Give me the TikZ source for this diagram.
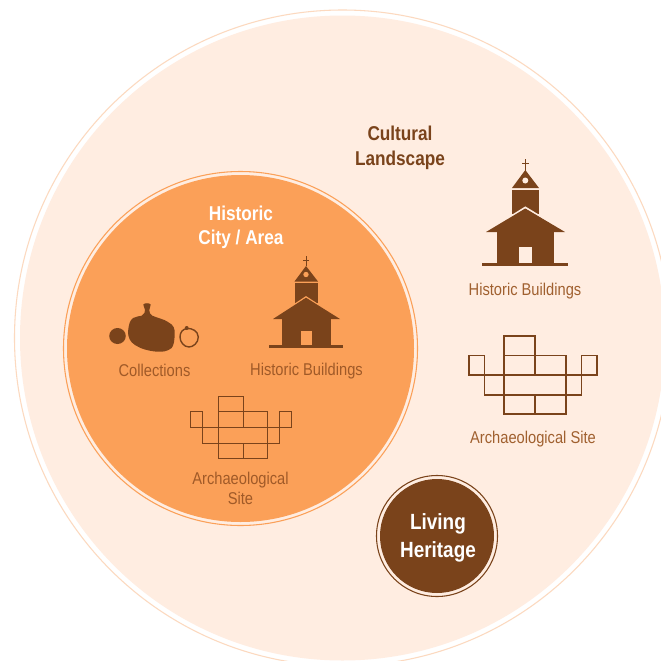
\documentclass[tikz,border=0pt]{standalone}
\usepackage{fontspec}
\setmainfont[FakeStretch=0.86]{Liberation Sans}
\definecolor{brn}{HTML}{7A431B}
\definecolor{org}{HTML}{FBA058}
\definecolor{lgt}{HTML}{FFEDE1}
\definecolor{rng}{HTML}{FCD9BF}
\definecolor{lbl}{HTML}{A0602F}
\definecolor{lblo}{HTML}{A05A28}
\tikzset{
  px/.style={x=0.75pt,y=-0.75pt},
  lab/.style={align=center,font=\fontsize{12.8pt}{15.2pt}\selectfont,inner sep=0pt},
  head/.style={align=center,font=\fontsize{15pt}{19pt}\selectfont\bfseries,inner sep=0pt},
  site/.style={draw=brn,line width=0.8pt,fill=none},
  sites/.style={draw=brn,line width=0.7pt,fill=none},
}
\begin{document}
\begin{tikzpicture}[px]
\useasboundingbox (0,0) rectangle (661,661);
\clip (0,0) rectangle (661,661);
\fill[white] (0,0) rectangle (661,661);
% outer
\fill[lgt] (342.5,338) circle[radius=322.5];
\draw[rng,line width=0.8pt] (342.5,338) circle[radius=328];
% inner
\fill[org] (240.5,348.5) circle[radius=173.5];
\draw[org,line width=0.8pt] (240.5,348.5) circle[radius=177];
% living
\fill[brn] (437,536) circle[radius=57];
\draw[brn,line width=0.8pt] (437,536) circle[radius=60.5];
% texts
\node[head,text=brn] (cl) at (400,147.5) {Cultural\\Landscape};
\node[head,text=white,font=\fontsize{15pt}{18.2pt}\selectfont\bfseries] (hc) at (241,227) {Historic\\City / Area};
\node[head,text=white,font=\fontsize{16.5pt}{21pt}\selectfont\bfseries] (lh) at (438,538) {Living\\Heritage};
\node[lab,text=lbl] (hb1) at (525,291) {Historic Buildings};
\node[lab,text=lbl] (as1) at (533,439) {Archaeological Site};
\node[lab,text=lblo] (col) at (154.5,370) {Collections};
\node[lab,text=lblo] (hb2) at (306.5,371) {Historic Buildings};
\node[lab,text=lblo] (as2) at (240.5,488.5) {Archaeological\\Site};
% big church
\fill[brn] (524.9,159) rectangle (525.7,171);
\fill[brn] (522,162.7) rectangle (529,163.5);
\fill[brn] (525.3,170) -- (539,188) -- (512,188) -- cycle;
\fill[lgt] (525.3,180.5) circle[radius=3];
\fill[brn] (512,190) rectangle (539,214);
\draw[lgt,line width=1.4pt,fill=brn] (525.3,207.5) -- (566,232) -- (486,232) -- cycle;
\fill[brn] (525.3,208.5) -- (565,232) -- (486,232) -- cycle;
\fill[brn] (497,232) rectangle (554,265);
\fill[lgt] (519,247) rectangle (532,263);
\fill[brn] (482,263) rectangle (568,266);
% small church
\fill[brn] (305.6,256) rectangle (306.4,266);
\fill[brn] (303,259.6) rectangle (309,260.4);
\fill[brn] (306,266) -- (318,281.5) -- (294.5,281.5) -- cycle;
\fill[org] (306,274.5) circle[radius=2.7];
\fill[brn] (294.5,283) rectangle (318,303);
\draw[org,line width=1.2pt,fill=brn] (306,297) -- (340,319) -- (273,319) -- cycle;
\fill[brn] (306,297.7) -- (340,319) -- (273,319) -- cycle;
\fill[brn] (282,319) rectangle (331,346);
\fill[org] (301,331) rectangle (312,345);
\fill[brn] (269,345) rectangle (343,348);
% collections
\fill[brn] (117.5,336) ellipse[x radius=8.3,y radius=8];
\fill[brn] (143.3,304.5) .. controls (144,302.8) and (150,302.8) .. (150.7,304.5)
  .. controls (150.7,307) and (149.3,308) .. (149.3,310)
  .. controls (149.3,313) and (150,314) .. (152,315.5)
  .. controls (157,318) and (164,319) .. (168,322)
  .. controls (174,325) and (175,329) .. (174.7,334)
  .. controls (174.5,340) and (174,345) .. (171.7,348)
  .. controls (167,351.5) and (163,352) .. (157,351.7)
  .. controls (149,351) and (141,349) .. (135,345)
  .. controls (130,342) and (128,337) .. (128,332)
  .. controls (128.5,325) and (130,320) .. (133,318)
  .. controls (136,316) and (140,316.5) .. (142,315.5)
  .. controls (144.5,314) and (145,312) .. (145,310)
  .. controls (145,308) and (143.3,307) .. (143.3,304.5) -- cycle;
\draw[brn,line width=1.05pt] (187,328.5)
  .. controls (192,328) and (198,331) .. (198.3,337)
  .. controls (198.3,343) and (193,347) .. (189,347)
  .. controls (184,347) and (180,342) .. (180,337)
  .. controls (180,332) and (183,329) .. (187,328.5) -- cycle;
\fill[brn] (186.7,328) circle[radius=2];
% big site
\draw[site] (504,336) rectangle (535,355.7);
\draw[site] (504,355.7) rectangle (535,375);
\draw[site] (535,355.7) rectangle (566,375);
\draw[site] (469,355.7) rectangle (484.5,375);
\draw[site] (581.5,355.7) rectangle (597,375);
\draw[site] (484.5,375) rectangle (504,395);
\draw[site] (504,375) rectangle (566,395);
\draw[site] (566,375) rectangle (581.5,395);
\draw[site] (504,395) rectangle (535,414);
\draw[site] (535,395) rectangle (566,414);
% small site
\draw[sites] (218,396) rectangle (243,411.5);
\draw[sites] (218,411.5) rectangle (243,427);
\draw[sites] (243,411.5) rectangle (267,427);
\draw[sites] (190.5,411.5) rectangle (202.5,427);
\draw[sites] (279,411.5) rectangle (291,427);
\draw[sites] (202.5,427) rectangle (218,443);
\draw[sites] (218,427) rectangle (267,443);
\draw[sites] (267,427) rectangle (279,443);
\draw[sites] (218,443) rectangle (243,458);
\draw[sites] (243,443) rectangle (267,458);
\end{tikzpicture}
\end{document}
